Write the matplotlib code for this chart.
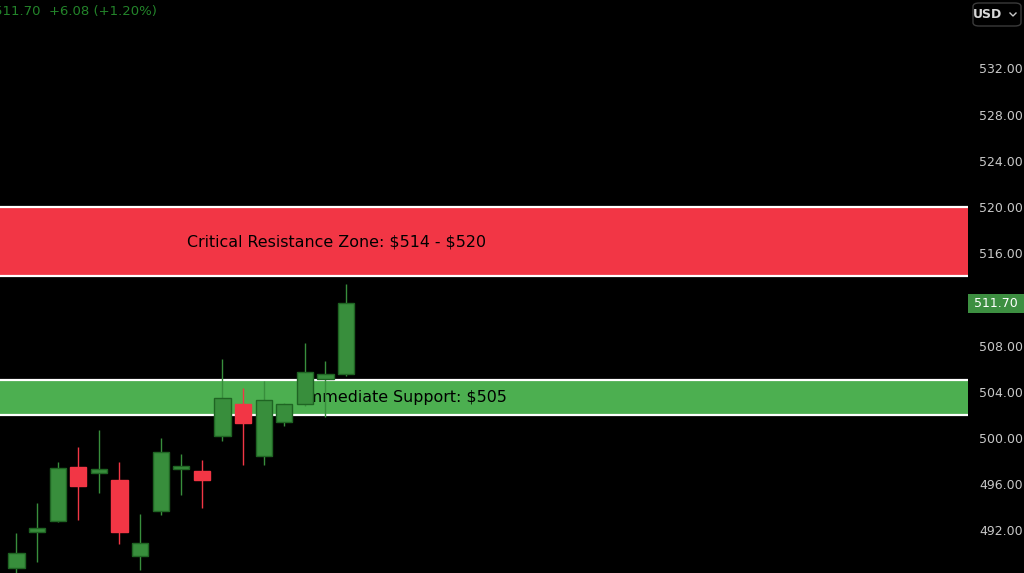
import numpy as np
import matplotlib.pyplot as plt
import matplotlib.transforms as mtransforms
from matplotlib.patches import FancyBboxPatch
import matplotlib.lines as mlines

## candle data (oldest -> newest)
opens  = [488.7, 491.9, 492.8, 497.5, 497.0, 496.4, 489.8, 493.7, 497.3, 497.1,
          500.2, 502.9, 498.4, 501.4, 502.9, 505.1, 505.5]
highs  = [491.8, 494.4, 497.9, 499.2, 500.7, 497.9, 493.4, 500.0, 498.6, 498.1,
          506.8, 504.3, 504.9, 503.0, 508.2, 506.7, 513.3]
lows   = [487.6, 489.3, 492.7, 492.9, 495.2, 490.8, 488.6, 493.3, 495.1, 493.9,
          499.7, 497.7, 497.7, 501.0, 502.8, 501.8, 505.4]
closes = [490.0, 492.1, 497.4, 495.8, 497.3, 491.9, 490.9, 498.8, 497.6, 496.4,
          503.5, 501.3, 503.3, 502.9, 505.7, 505.5, 511.7]

resistance = (514, 520)
support = (502, 505)
last_price = 511.70
header = '511.70  +6.08 (+1.20%)'
yticks = [492, 496, 500, 504, 508, 516, 520, 524, 528, 532]

GREEN = '#388e3c'
GREEN_EDGE = '#1f6423'
RED = '#f23645'

fig = plt.figure(figsize=(10.24, 5.73), dpi=100, facecolor='black')
ax = fig.add_axes([0, 0, 968/1024, 1])
ax.set_facecolor('black')

## zones
ax.axhspan(resistance[0], resistance[1], color=RED, lw=0, zorder=1)
ax.axhspan(support[0], support[1], color='#4caf50', lw=0, zorder=1)
for yv in list(resistance) + list(support):
    ax.axhline(yv, color='white', lw=1.6, zorder=2)

trans = mtransforms.blended_transform_factory(ax.transAxes, ax.transData)
ax.text(0.348, sum(resistance)/2, r'Critical Resistance Zone: \$514 - \$520', transform=trans,
        ha='center', va='center', fontsize=11.4, color='black', zorder=3)
ax.text(0.418, sum(support)/2, r'Immediate Support: \$505', transform=trans,
        ha='center', va='center', fontsize=11.4, color='black', zorder=3)

## candles
x = np.arange(len(opens))
o = np.array(opens); c = np.array(closes)
up = c >= o
cols = [GREEN if u else RED for u in up]
edges = [GREEN_EDGE if u else RED for u in up]
ax.vlines(x, lows, highs, colors=cols, lw=1, zorder=4)
bottoms = np.minimum(o, c)
heights = np.maximum(np.abs(c - o), 0.3)
ax.bar(x, heights, bottom=bottoms, width=0.78, color=cols, edgecolor=edges, linewidth=1, zorder=5)

ax.set_xlim(-0.80, 46.19)
ax.set_ylim(488.31, 537.92)

ax.yaxis.tick_right()
ax.set_yticks(yticks)
ax.set_yticklabels(['%.2f' % t for t in yticks])
ax.tick_params(axis='y', length=0, pad=8, labelsize=9, labelcolor='#c8c8c8')
ax.set_xticks([])
for s in ax.spines.values():
    s.set_visible(False)

## last price tag
tag = FancyBboxPatch((968/1024, 1 - 313/573), 56/1024, 19/573, boxstyle='square,pad=0',
                     transform=fig.transFigure, fc='#3d8f41', ec='none')
fig.patches.append(tag)
fig.text(996/1024, 1 - 303.5/573, '%.2f' % last_price, ha='center', va='center',
         fontsize=9, color='white')

## header quote (left part cut off like the screenshot)
fig.text(-6/1024, 1 - 12/573, header, ha='left', va='center', fontsize=9.5, color='#23842a')

## USD selector
box = FancyBboxPatch((973/1024, 1 - 26/573), 48/1024, 23/573, boxstyle='round,pad=0,rounding_size=0.006',
                     transform=fig.transFigure, fc='black', ec='#3a3a3a', lw=1)
fig.patches.append(box)
fig.text(987/1024, 1 - 14/573, 'USD', ha='center', va='center', fontsize=9, color='#d8d8d8', weight='bold')
fig.lines.append(mlines.Line2D([1010/1024, 1013/1024, 1016/1024], [1 - 13/573, 1 - 16/573, 1 - 13/573],
                               transform=fig.transFigure, color='#c8c8c8', lw=1))

plt.savefig('out.png', dpi=100, facecolor='black')
plt.close()
